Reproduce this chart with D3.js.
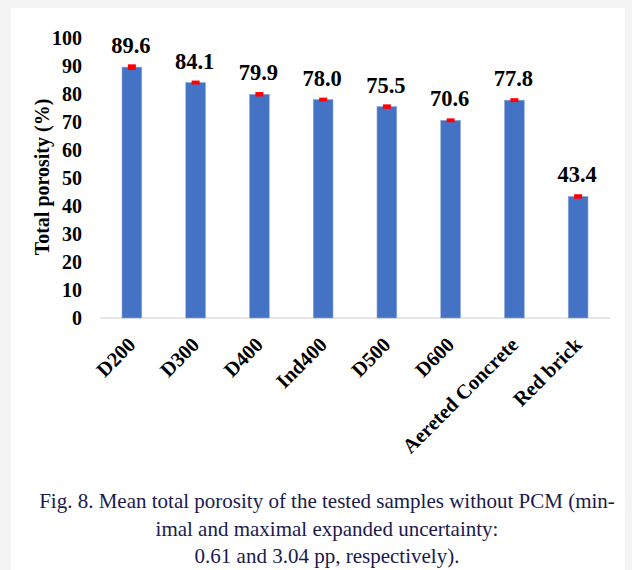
<!DOCTYPE html>
<html><head><meta charset="utf-8">
<script src="https://cdn.jsdelivr.net/npm/d3@7"></script>
<style>
html,body{margin:0;padding:0;background:#f4f4f4;}
svg{display:block;}
</style></head>
<body>
<svg id="c" width="632" height="570"></svg>
<script>
const categories = ["D200","D300","D400","Ind400","D500","D600","Aereted Concrete","Red brick"];
const porosity = [89.6, 84.1, 79.9, 78.0, 75.5, 70.6, 77.8, 43.4];
const uncertainty = [1.0, 0.7, 0.8, 0.7, 0.8, 0.7, 0.7, 0.8];
const yTicks = [0,10,20,30,40,50,60,70,80,90,100];
const yTitle = "Total porosity (%)";
const captionLines = [
  "Fig. 8. Mean total porosity of the tested samples without PCM (min-",
  "imal and maximal expanded uncertainty:",
  "0.61 and 3.04 pp, respectively)."
];

const svg = d3.select("#c");
const serif = "'Liberation Serif','Times New Roman',serif";

// white panel
svg.append("rect").attr("x",11).attr("y",8).attr("width",614).attr("height",562).attr("fill","#fff");

const x = d3.scaleBand().domain(categories).range([100,610]).paddingInner(0.69).paddingOuter(0.345);
const y = d3.scaleLinear().domain([0,100]).range([318,38]);

// baseline axis
svg.append("line").attr("x1",100).attr("x2",610).attr("y1",y(0)).attr("y2",y(0))
  .attr("stroke","#d0d0d0").attr("stroke-width",1.2);

// y tick labels
svg.append("g").selectAll("text").data(yTicks).join("text")
  .attr("x",82).attr("y",d=>y(d)).attr("dy","0.35em")
  .attr("text-anchor","end").attr("font-family",serif).attr("font-weight","bold")
  .attr("font-size",20).attr("fill","#000").text(d=>d);

// y title
svg.append("text").attr("transform",`translate(49,177) rotate(-90)`)
  .attr("text-anchor","middle").attr("font-family",serif).attr("font-weight","bold")
  .attr("font-size",20).attr("fill","#000").text(yTitle);

// bars
svg.append("g").selectAll("rect").data(categories).join("rect")
  .attr("x",d=>x(d)).attr("width",x.bandwidth())
  .attr("y",(d,i)=>y(porosity[i])).attr("height",(d,i)=>y(0)-y(porosity[i]))
  .attr("fill","#4472c4").attr("stroke","#8faadc").attr("stroke-width",0.6);

// error marks
svg.append("g").selectAll("rect").data(categories).join("rect")
  .attr("x",d=>x(d)+x.bandwidth()/2-4).attr("width",8)
  .attr("y",(d,i)=>y(porosity[i]+uncertainty[i]))
  .attr("height",(d,i)=>y(porosity[i]-uncertainty[i])-y(porosity[i]+uncertainty[i]))
  .attr("fill","#ff0000");

// value labels
svg.append("g").selectAll("text").data(categories).join("text")
  .attr("x",d=>x(d)+x.bandwidth()/2-1).attr("y",(d,i)=>y(porosity[i])-14)
  .attr("text-anchor","middle").attr("font-family",serif).attr("font-weight","bold")
  .attr("font-size",22.5).attr("fill","#000").text((d,i)=>porosity[i].toFixed(1));

// x labels
svg.append("g").selectAll("text").data(categories).join("text")
  .attr("transform",d=>`translate(${x(d)+x.bandwidth()/2+5},${y(0)+28}) rotate(-45)`)
  .attr("text-anchor","end").attr("font-family",serif).attr("font-weight","bold")
  .attr("font-size",20.5).attr("fill","#000").text(d=>d);

// caption
svg.append("g").selectAll("text").data(captionLines).join("text")
  .attr("x",327).attr("y",(d,i)=>508+i*27.5)
  .attr("text-anchor","middle").attr("font-family",serif)
  .attr("font-size",21).attr("fill","#1a1a4e").text(d=>d);
</script>
</body></html>
